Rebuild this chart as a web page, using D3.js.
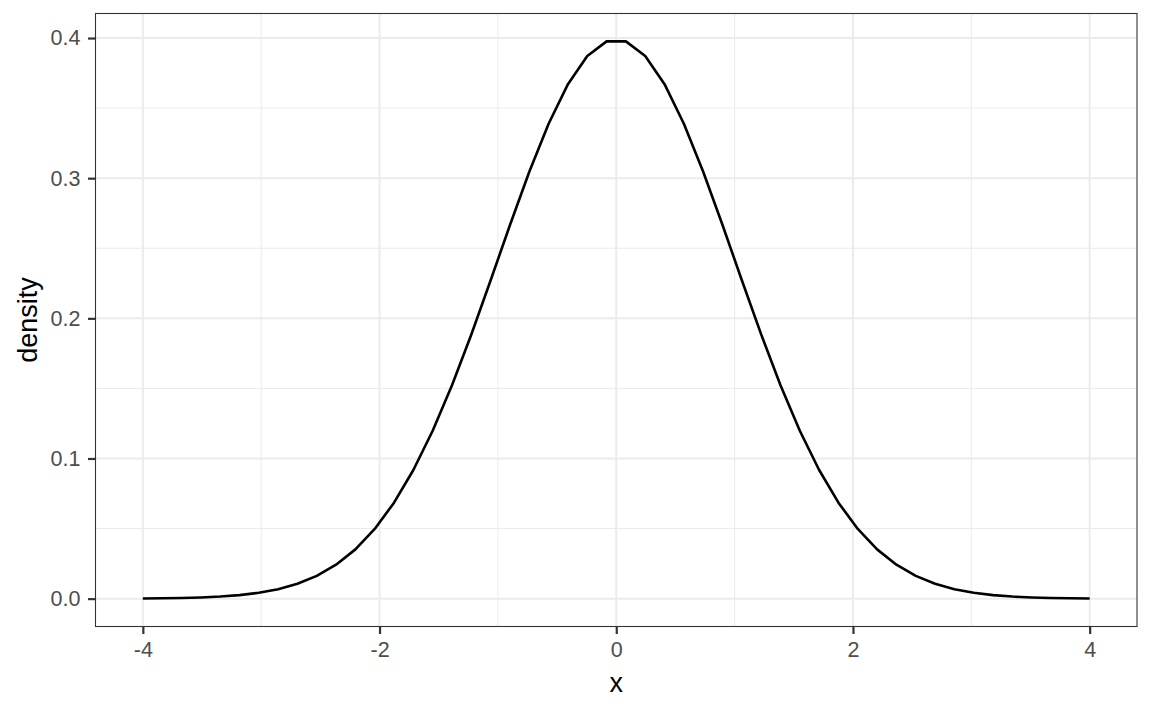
<!DOCTYPE html>
<html>
<head>
<meta charset="utf-8">
<script src="https://cdn.jsdelivr.net/npm/d3@7"></script>
<style>
  body { margin: 0; background: #fff; }
  text { font-family: "Liberation Sans", Arial, sans-serif; }
</style>
</head>
<body>
<svg id="chart" width="1152" height="711"></svg>
<script>
// normal density sampled at 50 points between -4 and 4
const xs = [
  -4.0, -3.83673, -3.67347, -3.5102, -3.34694, -3.18367, -3.02041, -2.85714, -2.69388, -2.53061,
  -2.36735, -2.20408, -2.04082, -1.87755, -1.71429, -1.55102, -1.38776, -1.22449, -1.06122, -0.89796,
  -0.73469, -0.57143, -0.40816, -0.2449, -0.08163, 0.08163, 0.2449, 0.40816, 0.57143, 0.73469,
  0.89796, 1.06122, 1.22449, 1.38776, 1.55102, 1.71429, 1.87755, 2.04082, 2.20408, 2.36735,
  2.53061, 2.69388, 2.85714, 3.02041, 3.18367, 3.34694, 3.5102, 3.67347, 3.83673, 4.0
];
const density = [
  0.00013, 0.00025, 0.00047, 0.00084, 0.00147, 0.00251, 0.00417, 0.00673, 0.01059, 0.01622,
  0.02420, 0.03515, 0.04971, 0.06846, 0.09179, 0.11982, 0.15231, 0.18851, 0.22717, 0.26657,
  0.30457, 0.33885, 0.36706, 0.38716, 0.39762, 0.39762, 0.38716, 0.36706, 0.33885, 0.30457,
  0.26657, 0.22717, 0.18851, 0.15231, 0.11982, 0.09179, 0.06846, 0.04971, 0.03515, 0.02420,
  0.01622, 0.01059, 0.00673, 0.00417, 0.00251, 0.00147, 0.00084, 0.00047, 0.00025, 0.00013
];
const xTicks = [-4, -2, 0, 2, 4];
const xMinor = [-3, -1, 1, 3];
const yTicks = [0, 0.1, 0.2, 0.3, 0.4];
const yMinor = [0.05, 0.15, 0.25, 0.35];

const svg = d3.select("#chart");
const panel = { left: 95.5, top: 13.5, right: 1137, bottom: 626.5 };

// ggplot-style 5% expansion
const xr = d3.extent(xs), yr = [0, d3.max(density)];
const xPad = (xr[1] - xr[0]) * 0.05, yPad = (yr[1] - yr[0]) * 0.05;
const x = d3.scaleLinear().domain([xr[0] - xPad, xr[1] + xPad]).range([panel.left, panel.right]);
const y = d3.scaleLinear().domain([yr[0] - yPad, yr[1] + yPad]).range([panel.bottom, panel.top]);

const grid = svg.append("g");
grid.selectAll("line.xminor").data(xMinor).join("line")
  .attr("x1", d => x(d)).attr("x2", d => x(d))
  .attr("y1", panel.top).attr("y2", panel.bottom)
  .attr("stroke", "#ebebeb").attr("stroke-width", 1);
grid.selectAll("line.yminor").data(yMinor).join("line")
  .attr("y1", d => y(d)).attr("y2", d => y(d))
  .attr("x1", panel.left).attr("x2", panel.right)
  .attr("stroke", "#ebebeb").attr("stroke-width", 1);
grid.selectAll("line.xmajor").data(xTicks).join("line")
  .attr("x1", d => x(d)).attr("x2", d => x(d))
  .attr("y1", panel.top).attr("y2", panel.bottom)
  .attr("stroke", "#ebebeb").attr("stroke-width", 2);
grid.selectAll("line.ymajor").data(yTicks).join("line")
  .attr("y1", d => y(d)).attr("y2", d => y(d))
  .attr("x1", panel.left).attr("x2", panel.right)
  .attr("stroke", "#ebebeb").attr("stroke-width", 2);

const line = d3.line().x((d, i) => x(xs[i])).y(d => y(d));
svg.append("path")
  .datum(density)
  .attr("d", line)
  .attr("fill", "none")
  .attr("stroke", "#000")
  .attr("stroke-width", 2.6)
  .attr("stroke-linejoin", "round");

svg.append("rect")
  .attr("x", panel.left).attr("y", panel.top)
  .attr("width", panel.right - panel.left).attr("height", panel.bottom - panel.top)
  .attr("fill", "none").attr("stroke", "#333").attr("stroke-width", 1.1);

const xAxis = svg.append("g")
  .attr("transform", `translate(0,${panel.bottom})`)
  .call(d3.axisBottom(x).tickValues(xTicks).tickSize(7.5).tickPadding(7.5).tickFormat(d => String(d)));
const yAxis = svg.append("g")
  .attr("transform", `translate(${panel.left},0)`)
  .call(d3.axisLeft(y).tickValues(yTicks).tickSize(7.5).tickPadding(7.5).tickFormat(d3.format(".1f")));

[xAxis, yAxis].forEach(g => {
  g.attr("font-size", null).attr("font-family", null);
  g.select(".domain").remove();
  g.selectAll(".tick line").attr("stroke", "#333").attr("stroke-width", 2.2);
  g.selectAll(".tick text").attr("fill", "#4d4d4d").style("font-size", "21.5px");
});

svg.append("text")
  .attr("x", (panel.left + panel.right) / 2).attr("y", 692)
  .attr("text-anchor", "middle").style("font-size", "27px").attr("fill", "#000")
  .text("x");
svg.append("text")
  .attr("transform", `translate(36.5,${(panel.top + panel.bottom) / 2}) rotate(-90)`)
  .attr("text-anchor", "middle").style("font-size", "27px").attr("fill", "#000")
  .text("density");
</script>
</body>
</html>
